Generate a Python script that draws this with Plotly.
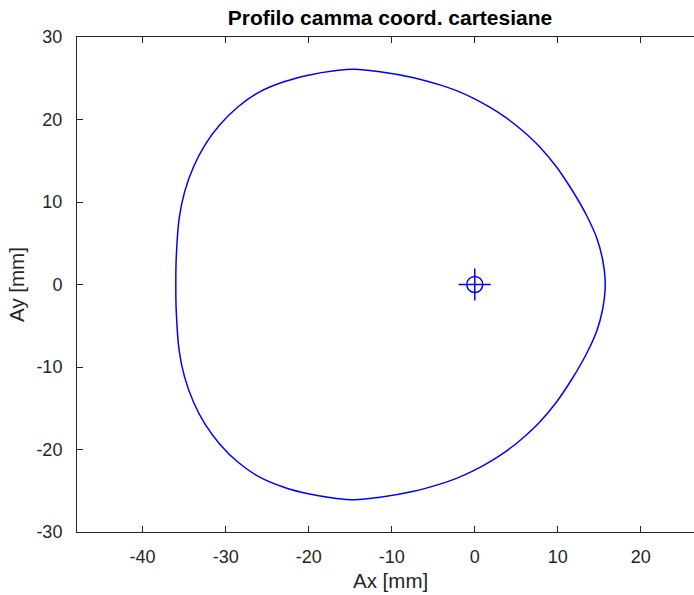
import plotly.graph_objects as go

# Cam profile contour in cartesian coordinates [mm], counter-clockwise from the rightmost point
profile_x = [15.7, 15.7, 15.4, 14.7, 13.5, 11.8, 9.8, 7.8, 5.8, 3.8, 1.8, -0.2, -2.2, -4.2,
             -7.5, -11.4, -14.5, -16.9, -19.9, -22.9, -25.9, -28.5, -30.7, -32.5, -33.85,
             -34.95, -35.6, -35.95, -36.0,
             -35.95, -35.6, -34.95, -33.85, -32.5, -30.7, -28.5, -25.9, -22.9, -19.9, -16.9,
             -14.5, -11.4, -7.5, -4.2, -2.2, -0.2, 1.8, 3.8, 5.8, 7.8, 9.8, 11.8, 13.5,
             14.7, 15.4, 15.7, 15.7]
profile_y = [0.0, 0.6, 3.0, 5.6, 8.3, 11.3, 14.3, 16.7, 18.6, 20.2, 21.5, 22.6, 23.5, 24.2,
             25.1, 25.8, 26.1, 25.9, 25.4, 24.6, 23.35, 21.55, 19.35, 16.9, 14.3,
             11.2, 8.0, 3.2, 0.0,
             -3.2, -8.0, -11.2, -14.3, -16.9, -19.35, -21.55, -23.35, -24.6, -25.4, -25.9,
             -26.1, -25.8, -25.1, -24.2, -23.5, -22.6, -21.5, -20.2, -18.6, -16.7, -14.3,
             -11.3, -8.3, -5.6, -3.0, -0.6, 0.0]

# Cam rotation centre
centre_x = [0.0]
centre_y = [0.0]

x_ticks = [-40, -30, -20, -10, 0, 10, 20]
y_ticks = [-30, -20, -10, 0, 10, 20, 30]

BLUE = "rgb(0,0,255)"
AXIS = "#262626"
FONT = "Liberation Sans, Arial, Helvetica, sans-serif"
W, H = 694, 595
LABEL_CX = 390  # horizontal centre of the (wider) axes box, in pixels

fig = go.Figure()
fig.add_trace(go.Scatter(
    x=profile_x, y=profile_y, mode="lines",
    line=dict(color=BLUE, width=1.5, shape="spline", smoothing=1.0),
    showlegend=False, hoverinfo="skip"))
fig.add_trace(go.Scatter(
    x=centre_x, y=centre_y, mode="markers",
    marker=dict(symbol="circle-open", size=16, color=BLUE, line=dict(width=1.5, color=BLUE)),
    showlegend=False, hoverinfo="skip"))
fig.add_trace(go.Scatter(
    x=centre_x, y=centre_y, mode="markers",
    marker=dict(symbol="cross-thin-open", size=23, color=BLUE, line=dict(width=1.5, color=BLUE)),
    showlegend=False, hoverinfo="skip"))

fig.update_layout(
    width=W, height=H,
    margin=dict(l=77, r=0, t=37, b=63),
    paper_bgcolor="white", plot_bgcolor="white",
    font=dict(family=FONT, size=18, color=AXIS),
    title=dict(text="<b>Profilo camma coord. cartesiane</b>", x=LABEL_CX / W,
               xref="container", xanchor="center",
               y=1 - 18 / H, yref="container", yanchor="middle",
               font=dict(family=FONT, size=21, color="black")),
    annotations=[dict(text="Ax [mm]", xref="paper", yref="paper",
                      x=(LABEL_CX - 77) / (W - 77), y=-(580 - 532) / (532 - 37),
                      xanchor="center", yanchor="middle", showarrow=False,
                      font=dict(family=FONT, size=20.5, color=AXIS))],
)
fig.update_xaxes(
    range=[-47.9, 26.4], tickvals=x_ticks, ticktext=[str(v) for v in x_ticks],
    ticks="inside", ticklen=6, tickwidth=1, tickcolor=AXIS,
    showline=True, linecolor=AXIS, linewidth=1, mirror="ticks",
    showgrid=False, zeroline=False, ticklabelstandoff=8,
    tickfont=dict(family=FONT, size=18, color=AXIS))
fig.update_yaxes(
    range=[-30, 30], tickvals=y_ticks, ticktext=[str(v) for v in y_ticks],
    ticks="inside", ticklen=6, tickwidth=1, tickcolor=AXIS,
    showline=True, linecolor=AXIS, linewidth=1, mirror=False,
    showgrid=False, zeroline=False, ticklabelstandoff=10,
    tickfont=dict(family=FONT, size=18, color=AXIS),
    title=dict(text="Ay [mm]", standoff=6, font=dict(family=FONT, size=20.5, color=AXIS)))

fig.write_html("out.html")
